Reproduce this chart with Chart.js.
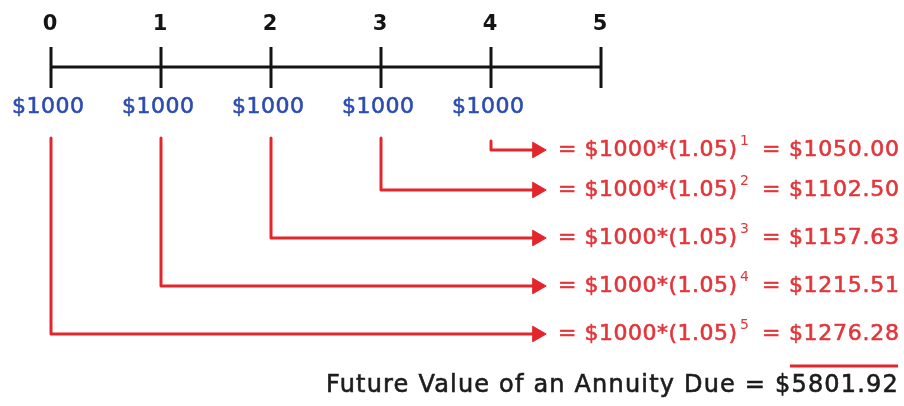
<!DOCTYPE html>
<html>
<head>
<meta charset="utf-8">
<script src="https://cdn.jsdelivr.net/npm/chart.js@4.4.1/dist/chart.umd.min.js"></script>
<style>
  html, body { margin: 0; padding: 0; background: #fff; }
  #wrap { width: 904px; height: 406px; }
</style>
</head>
<body>
<div id="wrap"><canvas id="fvChart" width="904" height="406"></canvas></div>
<script>
// data
const periods = [0, 1, 2, 3, 4, 5];
const payments = [1000, 1000, 1000, 1000, 1000];   // paid at the start of periods 0..4
const rate = 1.05;
const exponents = [1, 2, 3, 4, 5];
const futureValues = [1050.00, 1102.50, 1157.63, 1215.51, 1276.28]; // by exponent
const totalFV = 5801.92;
const totalLabel = 'Future Value of an Annuity Due';

// layout (diagram units, y grows downward)
const lineY = 67, tickTop = 47, tickBottom = 88;
const periodLabelY = 25, payLabelY = 107;
const dropTop = 138;
const rowY = [150, 190, 238, 286, 334];      // rows for exponents 1..5
const arrowEnd = 4.42;                        // centre of arrow head, in periods
const eqLeft = 558, eqMid = 743, valLeft = 762, textRight = 899;
const underlineY = 366, underlineLeft = 790;
const totalY = 386, totalLeft = 326;

const RED = '#e3262b', TEXTRED = '#e2363b', BLUE = '#2c4cb2', BLACK = '#141414';
const FONT = '"DejaVu Sans"';

const datasets = [];
datasets.push({
  data: [{x: periods[0], y: lineY}, {x: periods[periods.length - 1], y: lineY}],
  borderColor: BLACK, borderWidth: 3, pointRadius: 0
});
periods.forEach(p => {
  datasets.push({
    data: [{x: p, y: tickTop}, {x: p, y: tickBottom}],
    borderColor: BLACK, borderWidth: 3, pointRadius: 0
  });
});
payments.forEach((v, i) => {
  const n = periods.length - 1 - i;
  const ry = rowY[n - 1];
  const top = n === 1 ? dropTop + 3 : dropTop;
  datasets.push({
    data: [{x: periods[i], y: top}, {x: periods[i], y: ry}, {x: arrowEnd, y: ry}],
    borderColor: RED, backgroundColor: RED, borderWidth: 3,
    borderJoinStyle: 'round',
    pointRadius: [0, 0, 9], pointStyle: 'triangle', rotation: 90,
    pointBorderWidth: 1, pointBorderColor: RED
  });
});

// draw text spread between two x positions, slightly heavier than regular
function fitText(ctx, str, x0, x1, y) {
  ctx.letterSpacing = '0px';
  const w = ctx.measureText(str).width;
  const sp = (x1 - x0 - w) / Math.max(1, str.length - 1);
  ctx.letterSpacing = sp.toFixed(2) + 'px';
  ctx.textAlign = 'left';
  ctx.fillText(str, x0, y);
  ctx.lineWidth = 0.6;
  ctx.strokeStyle = ctx.fillStyle;
  ctx.strokeText(str, x0, y);
  ctx.letterSpacing = '0px';
}

const labelPlugin = {
  id: 'labelPlugin',
  afterDatasetsDraw(chart) {
    const ctx = chart.ctx;
    const xs = chart.scales.x, ys = chart.scales.y;
    ctx.save();
    ctx.textBaseline = 'middle';
    // period numbers
    ctx.font = 'bold 21px ' + FONT;
    ctx.fillStyle = BLACK;
    ctx.textAlign = 'center';
    periods.forEach(p => ctx.fillText(String(p), xs.getPixelForValue(p) - 1, ys.getPixelForValue(periodLabelY)));
    // payments
    ctx.font = '22px ' + FONT;
    ctx.fillStyle = BLUE;
    payments.forEach((v, i) => {
      const cx = xs.getPixelForValue(periods[i]) - 3;
      fitText(ctx, '$' + v, cx - 36, cx + 36, ys.getPixelForValue(payLabelY));
    });
    // equations
    ctx.fillStyle = TEXTRED;
    exponents.forEach((n, k) => {
      const py = ys.getPixelForValue(rowY[k]);
      ctx.font = '22px ' + FONT;
      fitText(ctx, '= $' + payments[0] + '*(' + rate.toFixed(2) + ')', eqLeft, eqMid - 6, py);
      ctx.font = '14px ' + FONT;
      ctx.textAlign = 'left';
      ctx.fillText(String(n), eqMid - 3, py - 9);
      ctx.font = '22px ' + FONT;
      fitText(ctx, '= $' + futureValues[k].toFixed(2), valLeft, textRight, py);
    });
    // underline + total
    ctx.strokeStyle = RED;
    ctx.lineWidth = 3;
    ctx.beginPath();
    ctx.moveTo(underlineLeft, ys.getPixelForValue(underlineY));
    ctx.lineTo(textRight - 1, ys.getPixelForValue(underlineY));
    ctx.stroke();
    ctx.fillStyle = '#1c1c1c';
    ctx.font = '24px ' + FONT;
    fitText(ctx, totalLabel + ' = $' + totalFV.toFixed(2), totalLeft, textRight - 1, ys.getPixelForValue(totalY));
    ctx.restore();
  }
};

const pxPerPeriod = 110, originPx = 51;
new Chart(document.getElementById('fvChart'), {
  type: 'scatter',
  data: { datasets: datasets.map(d => Object.assign({showLine: true, fill: false, tension: 0}, d)) },
  options: {
    responsive: false,
    animation: false,
    events: [],
    layout: { padding: 0, autoPadding: false },
    plugins: { legend: { display: false }, tooltip: { enabled: false } },
    scales: {
      x: { type: 'linear', display: false, min: -originPx / pxPerPeriod, max: (904 - originPx) / pxPerPeriod },
      y: { type: 'linear', display: false, reverse: true, min: 0, max: 406 }
    }
  },
  plugins: [labelPlugin]
});
</script>
</body>
</html>
